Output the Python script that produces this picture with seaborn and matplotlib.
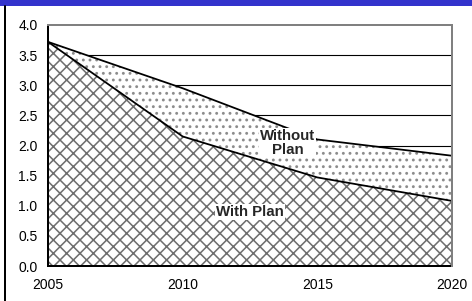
import matplotlib
matplotlib.use("Agg")
import matplotlib.pyplot as plt
import seaborn as sns
import pandas as pd
from matplotlib.patches import Rectangle
from matplotlib.lines import Line2D

# Data
years = [2005, 2010, 2015, 2020]
without_plan = [3.72, 2.95, 2.10, 1.83]
with_plan = [3.72, 2.15, 1.47, 1.08]
y_ticks = [0.0, 0.5, 1.0, 1.5, 2.0, 2.5, 3.0, 3.5, 4.0]
y_labels = ["0.0", "0.5", "1.0", "1.5", "2.0", "2.5", "3.0", "3.5", "4.0"]
x_labels = ["2005", "2010", "2015", "2020"]

df = pd.DataFrame({"Year": years, "Without Plan": without_plan, "With Plan": with_plan})

sns.set_style("white")
plt.rcParams["font.family"] = ["Liberation Sans", "DejaVu Sans"]
plt.rcParams["hatch.linewidth"] = 1.4

DPI = 80
fig = plt.figure(figsize=(472 / DPI, 301 / DPI), dpi=DPI)
ax = fig.add_axes([48 / 472, 35 / 301, 404 / 472, 241 / 301])

# gridlines behind the areas
for yv in y_ticks[1:-1]:
    ax.axhline(yv, color="black", lw=1.0, zorder=0)

# areas
ax.fill_between(df["Year"], 0, df["Without Plan"], facecolor="white",
                edgecolor="#8c8c8c", hatch="..", linewidth=0, zorder=1)
ax.fill_between(df["Year"], 0, df["With Plan"], facecolor="white",
                edgecolor="#6e6e6e", hatch="xx", linewidth=0, zorder=2)

sns.lineplot(data=df, x="Year", y="Without Plan", color="black", lw=1.6, ax=ax, zorder=3)
sns.lineplot(data=df, x="Year", y="With Plan", color="black", lw=1.6, ax=ax, zorder=3)

ax.set_xlim(2005, 2020)
ax.set_ylim(0, 4)
ax.set_xticks(years)
ax.set_xticklabels(x_labels)
ax.set_yticks(y_ticks)
ax.set_yticklabels(y_labels)
ax.set_xlabel("")
ax.set_ylabel("")
ax.tick_params(axis="both", direction="out", length=4.5, width=1.4,
               labelsize=12.5, colors="black")
ax.tick_params(axis="y", pad=5)
ax.tick_params(axis="x", pad=6)

for side in ["left", "bottom"]:
    ax.spines[side].set_color("black")
    ax.spines[side].set_linewidth(1.8)
for side in ["top", "right"]:
    ax.spines[side].set_color("#808080")
    ax.spines[side].set_linewidth(1.8)
    ax.spines[side].set_zorder(4)

box = dict(facecolor="white", edgecolor="none", pad=1.0)
ax.text(2013.9, 2.04, "Without\nPlan", ha="center", va="center", fontsize=13.5,
        fontweight="bold", linespacing=1.0, bbox=box, zorder=5)
ax.text(2012.5, 0.9, "With Plan", ha="center", va="center", fontsize=13.5,
        fontweight="bold", bbox=box, zorder=5)

# blue title band and left frame line
fig.patches.append(Rectangle((0, 1 - 6 / 301), 1, 6 / 301, transform=fig.transFigure,
                             facecolor="#3333cc", edgecolor="none"))
fig.lines.append(Line2D([5 / 472, 5 / 472], [0, 1 - 6 / 301], transform=fig.transFigure,
                        color="black", lw=1.8))

fig.savefig("out.png", dpi=DPI)
